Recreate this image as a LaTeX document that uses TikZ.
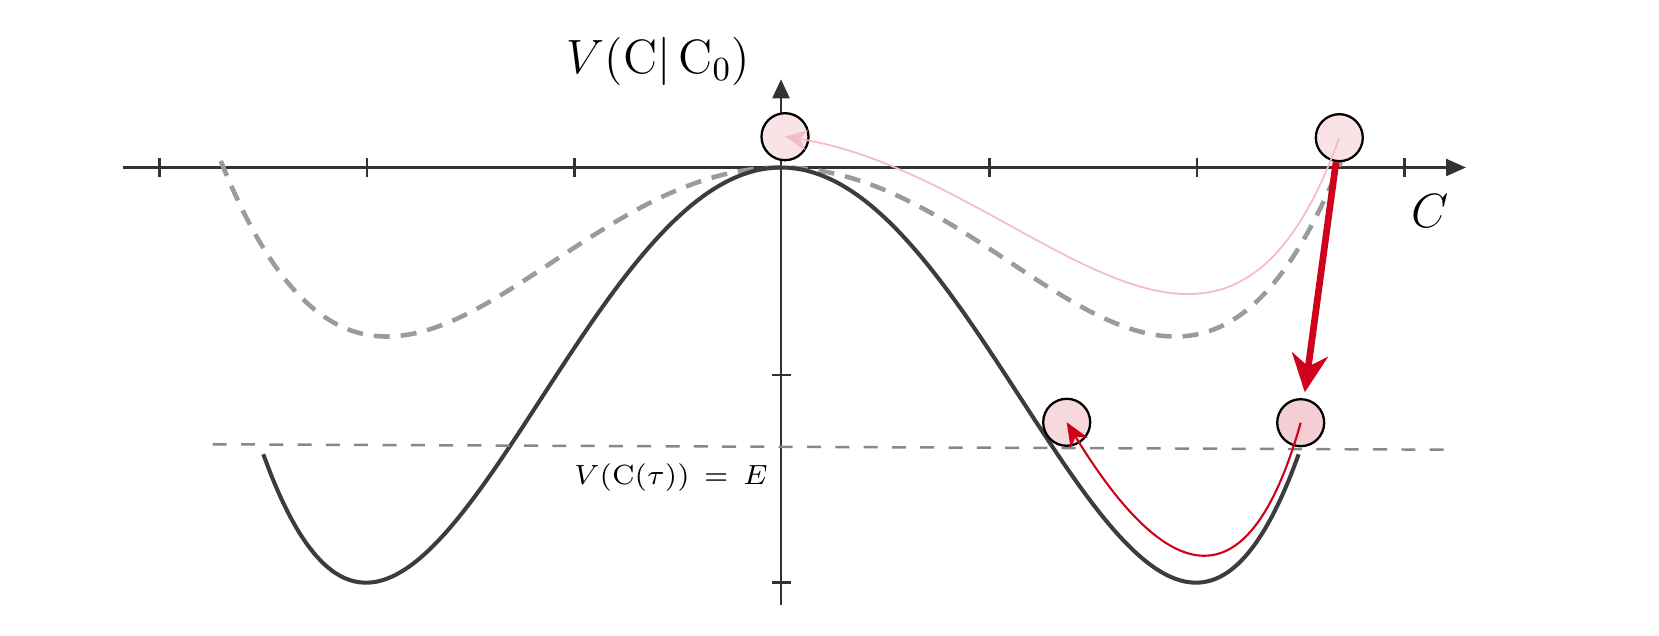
\RequirePackage{fix-cm}
\documentclass[tikz,border=0pt]{standalone}
\usetikzlibrary{arrows.meta}
\definecolor{axisc}{HTML}{333333}
\definecolor{curvec}{HTML}{3C3C3C}
\definecolor{dashc}{HTML}{9B9B9B}
\definecolor{elinec}{HTML}{888888}
\definecolor{redc}{RGB}{208,2,27}
\definecolor{palec}{HTML}{F4BCC4}
\definecolor{ballA}{HTML}{F9E3E6}
\definecolor{ballB}{HTML}{F7D8DD}
\definecolor{ballC}{HTML}{F5CDD4}
\begin{document}
\begin{tikzpicture}[
  axisline/.style={draw=axisc, line width=0.7pt},
  tickmark/.style={draw=axisc, line width=0.7pt},
  solidcurve/.style={draw=curvec, line width=1.15pt, smooth, samples=120},
  dashcurve/.style={draw=dashc, line width=1.3pt, dash pattern=on 0.16cm off 0.11cm, smooth, samples=120},
  eline/.style={draw=elinec, line width=0.7pt, dash pattern=on 0.14cm off 0.143cm},
  ball/.style={circle, draw=black, line width=0.65pt, minimum size=0.47cm, inner sep=0pt},
  bigarrow/.style={draw=redc, line width=1.9pt, -{Stealth[length=0.38cm, width=0.36cm, inset=0.12cm]}, shorten >=0.06cm},
  thinred/.style={draw=redc, line width=0.6pt, -{Stealth[length=0.24cm, width=0.2cm, inset=0.07cm]}},
  palearrow/.style={draw=palec, line width=0.5pt, -{Stealth[length=0.22cm, width=0.2cm, inset=0.07cm]}},
  biglabel/.style={anchor=base, font=\fontsize{13.7}{16}\selectfont},
  smalllabel/.style={anchor=base, font=\fontsize{7.9}{10}\selectfont}
]
\useasboundingbox (0,0) rectangle (16.59,-6.36);

% axes
\coordinate (xs) at (1.227,-1.675);
\coordinate (xe) at (14.66,-1.675);
\coordinate (ys) at (7.81,-6.05);
\coordinate (ye) at (7.81,-0.793);
\draw[axisline, -{Triangle[length=0.2cm, width=0.17cm]}] (xs) -- (xe);
\draw[axisline, -{Triangle[length=0.19cm, width=0.17cm]}] (ys) -- (ye);
\foreach \k in {0,1,2,4,5,6} {
  \draw[tickmark] ({1.593+2.075*\k},-1.58) -- ({1.593+2.075*\k},-1.77);
}
\foreach \yy in {-3.75,-5.827} {
  \draw[tickmark] (7.715,\yy) -- (7.905,\yy);
}

% curves
\draw[dashcurve, domain=-2.70:2.70] plot ({7.81+2.075*\x}, {-1.675+2.076*(0.06246*\x*\x*\x*\x-0.451*\x*\x)});
\draw[solidcurve, domain=-2.495:2.495] plot ({7.81+2.075*\x}, {-1.675+2.076*(\x*\x*\x*\x/8-\x*\x)});

% energy line
\coordinate (el) at (2.127,-4.443);
\coordinate (er) at (14.44,-4.497);
\draw[eline] (el) -- (er);

% labels
\node[biglabel] (vlab) at (6.585,-0.733) {$V(\mathrm{C}|\,\mathrm{C}_0)$};
\node[biglabel] (clab) at (14.30,-2.28) {$C$};
\node[smalllabel] (elab) at (6.71,-4.85) {$V(\mathrm{C}(\tau))\,=\,E$};

% balls
\node[ball, fill=ballA] (top0) at (7.85,-1.367) {};
\node[ball, fill=ballA] (topR) at (13.393,-1.377) {};
\node[ball, fill=ballB] (botL) at (10.667,-4.223) {};
\node[ball, fill=ballC] (botR) at (13.007,-4.227) {};

% arrows
\draw[palearrow] (topR.center) .. controls (12.20,-4.70) and (10.30,-1.75) .. (top0.center);
\draw[bigarrow] (topR) -- (botR);
\draw[thinred] (botR.center) .. controls (12.45,-6.20) and (11.60,-5.75) .. (botL.center);
\end{tikzpicture}
\end{document}
